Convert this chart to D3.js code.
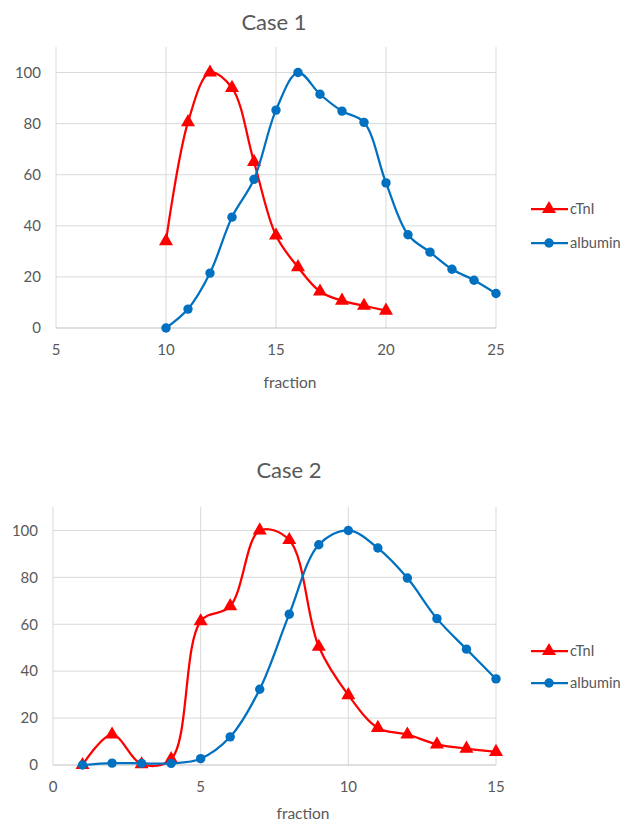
<!DOCTYPE html>
<html><head><meta charset="utf-8">
<script src="https://cdn.jsdelivr.net/npm/d3@7"></script>
<style>body{margin:0;background:#fff}svg{display:block}text{font-family:Lato,"Open Sans",sans-serif;fill:#595959}</style>
</head><body>
<script>
// Case 1 data
const c1TnIX = [10,11,12,13,14,15,16,17,18,19,20];
const c1TnIY = [34,80.6,100,94,65,36.2,23.8,14.3,10.7,8.7,6.8];
const c1AlbX = [10,11,12,13,14,15,16,17,18,19,20,21,22,23,24,25];
const c1AlbY = [0,7.4,21.5,43.4,58.2,85.3,100,91.5,84.9,80.5,56.8,36.5,29.7,23,18.7,13.5];
const c1XTicks = [5,10,15,20,25];
// Case 2 data
const c2TnIX = [1,2,3,4,5,6,7,8,9,10,11,12,13,14,15];
const c2TnIY = [0,13,0.3,2.5,61.3,67.7,100,95.9,50.4,29.8,15.8,13,8.8,7,5.6];
const c2AlbX = [1,2,3,4,5,6,7,8,9,10,11,12,13,14,15];
const c2AlbY = [0,0.8,0.7,0.7,2.7,12,32.3,64.3,93.9,100,92.5,79.7,62.4,49.4,36.7];
const c2XTicks = [0,5,10,15];
const yTicks = [0,20,40,60,80,100];
const seriesNames = ["cTnI","albumin"];
const RED = "#FF0000", BLUE = "#0070C0";

const svg = d3.select("body").append("svg").attr("width",630).attr("height",821);

function chart(cfg){
  const g = svg.append("g");
  const x = d3.scaleLinear().domain(cfg.xDomain).range([cfg.left,cfg.right]);
  const y = d3.scaleLinear().domain([0,110]).range([cfg.bottom,cfg.top]);
  g.append("text").attr("x",cfg.titleX).attr("y",cfg.titleY).attr("dy","0.35em").attr("text-anchor","middle")
    .style("font-size","22px").text(cfg.title);
  g.append("g").selectAll("line").data(yTicks.filter(d=>d>0)).join("line")
    .attr("x1",cfg.left).attr("x2",cfg.right).attr("y1",d=>y(d)).attr("y2",d=>y(d))
    .attr("stroke","#D9D9D9").attr("stroke-width",1);
  g.append("g").selectAll("line").data(cfg.xTicks).join("line")
    .attr("x1",d=>x(d)).attr("x2",d=>x(d)).attr("y1",y(0)).attr("y2",y(110))
    .attr("stroke","#D9D9D9").attr("stroke-width",1);
  g.append("line").attr("x1",cfg.left).attr("x2",cfg.right).attr("y1",y(0)).attr("y2",y(0))
    .attr("stroke","#BFBFBF").attr("stroke-width",1);
  g.append("g").selectAll("text").data(yTicks).join("text")
    .attr("x",cfg.left-15).attr("y",d=>y(d)).attr("dy","0.35em").attr("text-anchor","end")
    .style("font-size","15px").text(d=>d);
  g.append("g").selectAll("text").data(cfg.xTicks).join("text")
    .attr("x",d=>x(d)).attr("y",y(0)+22).attr("dy","0.35em").attr("text-anchor","middle")
    .style("font-size","15px").text(d=>d);
  g.append("text").attr("x",cfg.xTitleX).attr("y",cfg.xTitleY).attr("dy","0.35em").attr("text-anchor","middle")
    .style("font-size","15.5px").text("fraction");

  const line = d3.line().x(d=>x(d[0])).y(d=>y(d[1])).curve(d3.curveCatmullRom.alpha(0.5));
  const tri = d3.symbol().type(d3.symbolTriangle).size(85);
  const series = [
    {name:seriesNames[0], xs:cfg.tX, ys:cfg.tY, color:RED, shape:"tri"},
    {name:seriesNames[1], xs:cfg.aX, ys:cfg.aY, color:BLUE, shape:"circ"}
  ];
  series.forEach(s=>{
    const pts = s.xs.map((v,i)=>[v,s.ys[i]]);
    g.append("path").attr("d",line(pts)).attr("fill","none").attr("stroke",s.color).attr("stroke-width",2.25);
    if(s.shape==="tri"){
      g.append("g").selectAll("path").data(pts).join("path")
        .attr("d",tri).attr("transform",d=>`translate(${x(d[0])},${y(d[1])})`).attr("fill",s.color);
    } else {
      g.append("g").selectAll("circle").data(pts).join("circle")
        .attr("cx",d=>x(d[0])).attr("cy",d=>y(d[1])).attr("r",4.7).attr("fill",s.color);
    }
  });
  series.forEach((s,i)=>{
    const ly = cfg.legendY[i];
    g.append("line").attr("x1",531).attr("x2",568).attr("y1",ly).attr("y2",ly)
      .attr("stroke",s.color).attr("stroke-width",2.25);
    if(s.shape==="tri") g.append("path").attr("d",tri).attr("transform",`translate(549,${ly})`).attr("fill",s.color);
    else g.append("circle").attr("cx",549).attr("cy",ly).attr("r",4.7).attr("fill",s.color);
    g.append("text").attr("x",570).attr("y",ly).attr("dy","0.35em").style("font-size","14.6px").text(s.name);
  });
}

chart({title:"Case 1", titleX:274, titleY:22, xDomain:[5,25], xTicks:c1XTicks,
  left:56, right:496, top:47, bottom:328, xTitleX:290, xTitleY:383,
  tX:c1TnIX, tY:c1TnIY, aX:c1AlbX, aY:c1AlbY, legendY:[209,243]});
chart({title:"Case 2", titleX:289, titleY:470, xDomain:[0,15], xTicks:c2XTicks,
  left:53, right:496, top:507, bottom:765, xTitleX:303, xTitleY:814,
  tX:c2TnIX, tY:c2TnIY, aX:c2AlbX, aY:c2AlbY, legendY:[651,683]});
</script>
</body></html>
